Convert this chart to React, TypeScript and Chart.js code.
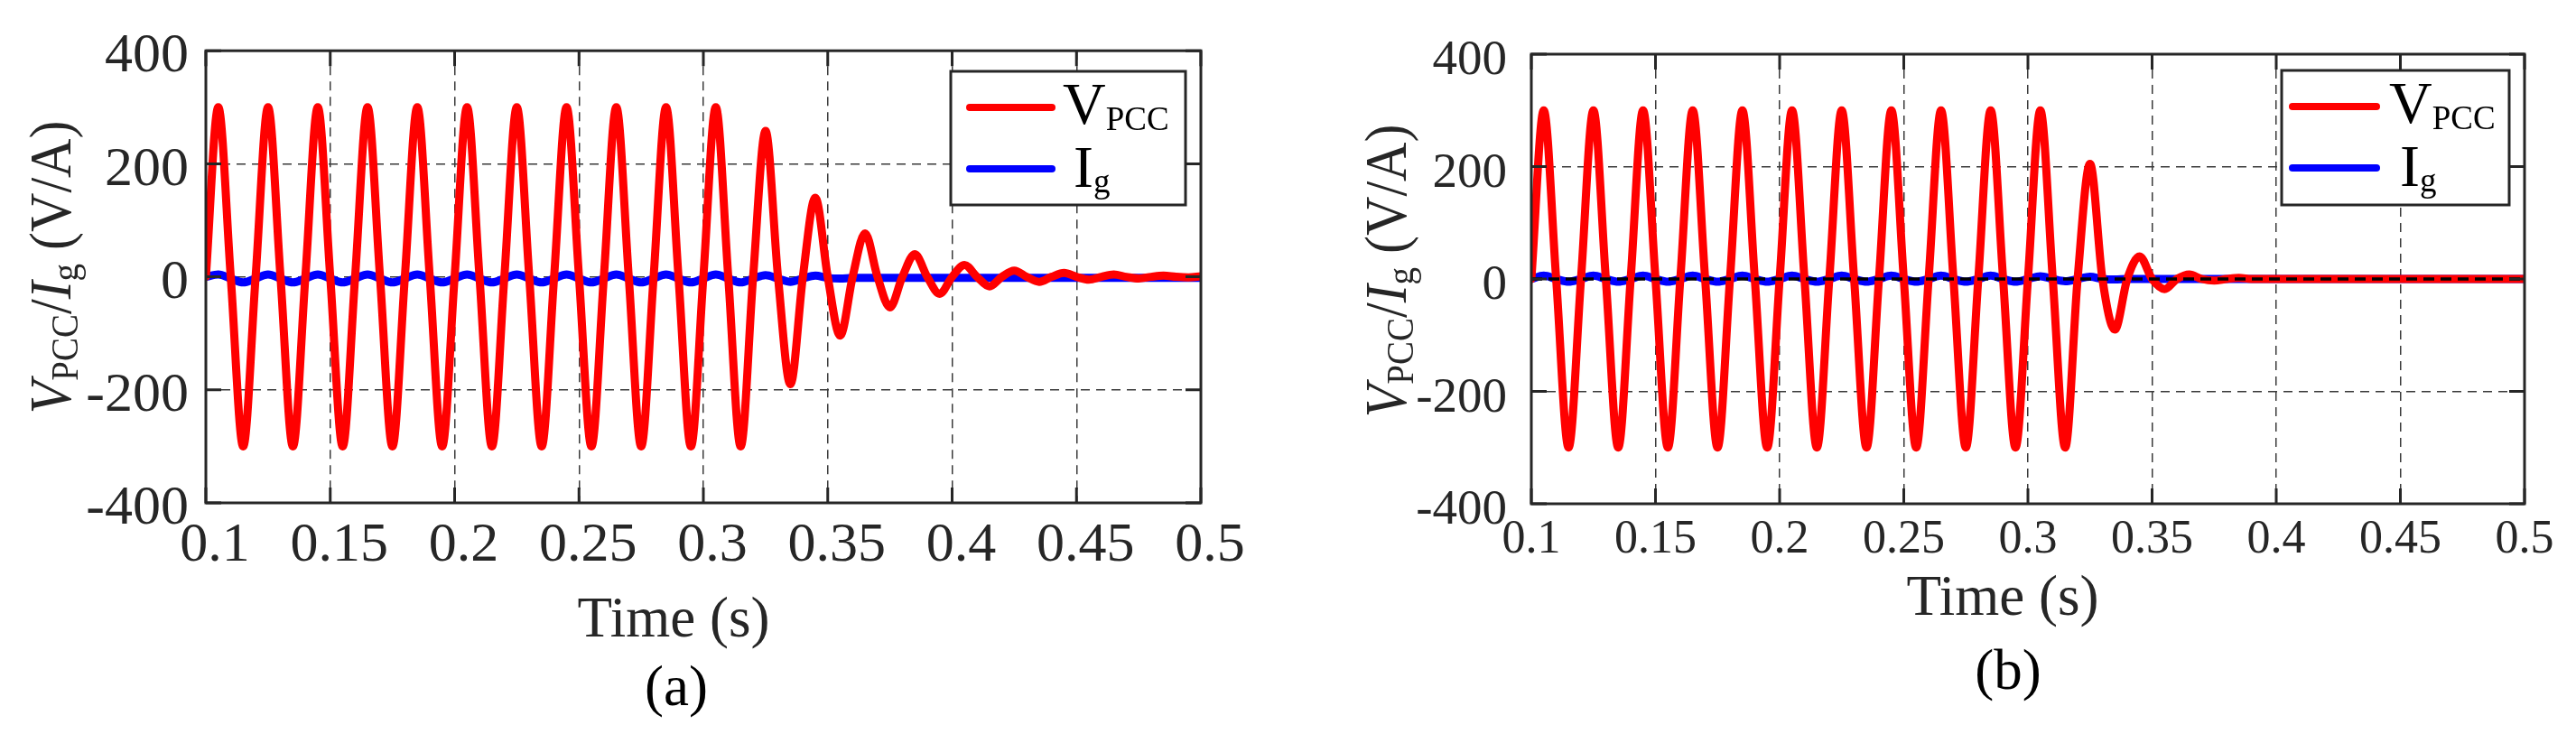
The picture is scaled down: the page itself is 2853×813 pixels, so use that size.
import React, { useEffect, useRef } from "react";
import { Chart, registerables } from "chart.js";

Chart.register(...registerables);

// samples every quarter period (5 ms) from 0.1 s to 0.5 s
const tStart = 0.1;
const tStep = 0.005;

const xTicks = [0.1, 0.15, 0.2, 0.25, 0.3, 0.35, 0.4, 0.45, 0.5];
const xTickLabels = ["0.1", "0.15", "0.2", "0.25", "0.3", "0.35", "0.4", "0.45", "0.5"];
const yTicks = [-400, -200, 0, 200, 400];
const yTickLabels = ["-400", "-200", "0", "200", "400"];

// (a) V_PCC
const vpccA = [
  0, 300, 0, -300, 0, 300, 0, -300,
  0, 300, 0, -300, 0, 300, 0, -300,
  0, 300, 0, -300, 0, 300, 0, -300,
  0, 300, 0, -300, 0, 300, 0, -300,
  0, 300, 0, -300, 0, 300, 0, -300,
  0, 300, 0, -300,
  0, 258, 0, -190, 0, 140, 0, -104,
  0, 77, 0, -54, 0, 40, 0, -30,
  0, 21, 0, -17, 0, 11, 0, -9,
  0, 7, 0, -5, 0, 4, 0, -3,
  0, 2, 0, -1, 1,
];

// (a) I_g
const igA = [
  0, 4, -3, -10, -3, 4, -3, -10,
  -3, 4, -3, -10, -3, 4, -3, -10,
  -3, 4, -3, -10, -3, 4, -3, -10,
  -3, 4, -3, -10, -3, 4, -3, -10,
  -3, 4, -3, -10, -3, 4, -3, -10,
  -3, 4, -3, -10,
  -3, 3, -3, -9, -3, 2, -2, -3,
  -2, -2, -2, -2, -2, -2, -2, -2,
  -2, -2, -2, -2, -2, -2, -2, -2,
  -2, -2, -2, -2, -2, -2, -2, -2,
  -2, -2, -2, -2, -2,
];

// (b) V_PCC
const vpccB = [
  0, 300, 0, -300, 0, 300, 0, -300,
  0, 300, 0, -300, 0, 300, 0, -300,
  0, 300, 0, -300, 0, 300, 0, -300,
  0, 300, 0, -300, 0, 300, 0, -300,
  0, 300, 0, -300, 0, 300, 0, -300,
  0, 300, 0, -300,
  0, 205, 0, -90, 0, 40, 0, -18,
  0, 8, 0, -3, 0, 2, 0, 0,
  0, 0, 0, 0, 0, 0, 0, 0,
  0, 0, 0, 0, 0, 0, 0, 0,
  0, 0, 0, 0, 0,
];

// (b) I_g
const igB = [
  0, 6, 0, -5, 0, 6, 0, -5,
  0, 6, 0, -5, 0, 6, 0, -5,
  0, 6, 0, -5, 0, 6, 0, -5,
  0, 6, 0, -5, 0, 6, 0, -5,
  0, 6, 0, -5, 0, 6, 0, -5,
  0, 5, 0, -4,
  0, 4, 0, -1, 0, 0, 0, 0,
  0, 0, 0, 0, 0, 0, 0, 0,
  0, 0, 0, 0, 0, 0, 0, 0,
  0, 0, 0, 0, 0, 0, 0, 0,
  0, 0, 0, 0, 0,
];

const H = 813;
const X_AXIS_H = 100;
const TICK = 17;
const SERIF = '"Liberation Serif", "Times New Roman", serif';
const AXIS_COLOR = "#262626";

type Run = { text: string; italic?: boolean; sub?: boolean };

const yTitleRuns: Run[] = [
  { text: "V", italic: true },
  { text: "PCC", sub: true },
  { text: "/" },
  { text: "I", italic: true },
  { text: "g", sub: true },
  { text: " (V/A)" },
];

function drawRuns(
  ctx: CanvasRenderingContext2D,
  runs: Run[],
  x: number,
  y: number,
  size: number,
  subSize: number,
  subDrop: number,
  center: boolean
) {
  const fontOf = (r: Run) => `${r.italic ? "italic " : ""}${r.sub ? subSize : size}px ${SERIF}`;
  let total = 0;
  for (const r of runs) {
    ctx.font = fontOf(r);
    total += ctx.measureText(r.text).width;
  }
  let cx = center ? x - total / 2 : x;
  ctx.textAlign = "left";
  ctx.textBaseline = "alphabetic";
  for (const r of runs) {
    ctx.font = fontOf(r);
    ctx.fillText(r.text, cx, r.sub ? y + subDrop : y);
    cx += ctx.measureText(r.text).width;
  }
}

interface PanelCfg {
  vpcc: number[];
  ig: number[];
  caption: string;
  left: number;
  width: number;
  area: { left: number; right: number; top: number; bottom: number };
  xTickSize: number;
  yTickSize: number;
  xTickPad: number;
  yTickPad: number;
  xLabelOffset: number;
  yLabelOffset: number;
  yTitle: { x: number; y: number };
  xTitle: { x: number; y: number };
  captionPos: { x: number; y: number };
  legend: { x: number; y: number; w: number; h: number; lineX: number; lineLen: number; textX: number };
  zeroOnTop: boolean;
}

const panelA: PanelCfg = {
  vpcc: vpccA,
  ig: igA,
  caption: "(a)",
  left: 0,
  width: 1426,
  area: { left: 228, right: 1330, top: 50, bottom: 557 },
  xTickSize: 62,
  yTickSize: 62,
  xTickPad: 11,
  yTickPad: 19,
  xLabelOffset: 10,
  yLabelOffset: 7,
  yTitle: { x: 78, y: 296 },
  xTitle: { x: 746, y: 705 },
  captionPos: { x: 749, y: 781 },
  legend: { x: 1053, y: 79, w: 260, h: 148, lineX: 1074, lineLen: 91, textX: 1177 },
  zeroOnTop: false,
};

const panelB: PanelCfg = {
  vpcc: vpccB,
  ig: igB,
  caption: "(b)",
  left: 1426,
  width: 1427,
  area: { left: 270, right: 1370, top: 49, bottom: 558 },
  xTickSize: 52,
  yTickSize: 55,
  xTickPad: 9,
  yTickPad: 27,
  xLabelOffset: 0,
  yLabelOffset: 8,
  yTitle: { x: 131, y: 300 },
  xTitle: { x: 792, y: 681 },
  captionPos: { x: 798, y: 763 },
  legend: { x: 1101, y: 78, w: 252, h: 149, lineX: 1113, lineLen: 93, textX: 1220 },
  zeroOnTop: true,
};

const toPoints = (vals: number[]) => vals.map((v, i) => ({ x: tStart + i * tStep, y: v }));

function makePlugin(cfg: PanelCfg) {
  return {
    id: "matlabLook",
    afterDatasetsDraw(chart: any) {
      const { ctx, chartArea: a } = chart;
      const xs = chart.scales.x;
      const ys = chart.scales.y;
      ctx.save();
      if (cfg.zeroOnTop) {
        const y0 = ys.getPixelForValue(0);
        ctx.strokeStyle = "#000";
        ctx.lineWidth = 3.5;
        ctx.setLineDash([12, 7]);
        ctx.beginPath();
        ctx.moveTo(a.left, y0);
        ctx.lineTo(a.right, y0);
        ctx.stroke();
        ctx.setLineDash([]);
      }
      ctx.strokeStyle = AXIS_COLOR;
      ctx.lineWidth = 3;
      ctx.strokeRect(a.left, a.top, a.right - a.left, a.bottom - a.top);
      ctx.beginPath();
      for (const v of xTicks) {
        const px = xs.getPixelForValue(v);
        ctx.moveTo(px, a.bottom);
        ctx.lineTo(px, a.bottom - TICK);
        ctx.moveTo(px, a.top);
        ctx.lineTo(px, a.top + TICK);
      }
      for (const v of yTicks) {
        const py = ys.getPixelForValue(v);
        ctx.moveTo(a.left, py);
        ctx.lineTo(a.left + TICK, py);
        ctx.moveTo(a.right, py);
        ctx.lineTo(a.right - TICK, py);
      }
      ctx.stroke();
      ctx.restore();
    },
    afterDraw(chart: any) {
      const ctx: CanvasRenderingContext2D = chart.ctx;
      const lg = cfg.legend;
      ctx.save();

      // legend
      ctx.fillStyle = "#fff";
      ctx.fillRect(lg.x, lg.y, lg.w, lg.h);
      ctx.strokeStyle = AXIS_COLOR;
      ctx.lineWidth = 3;
      ctx.strokeRect(lg.x, lg.y, lg.w, lg.h);
      ctx.lineCap = "round";
      ctx.lineWidth = 8;
      ctx.strokeStyle = "#ff0000";
      ctx.beginPath();
      ctx.moveTo(lg.lineX, lg.y + 40);
      ctx.lineTo(lg.lineX + lg.lineLen, lg.y + 40);
      ctx.stroke();
      ctx.strokeStyle = "#0000ff";
      ctx.beginPath();
      ctx.moveTo(lg.lineX, lg.y + 108);
      ctx.lineTo(lg.lineX + lg.lineLen, lg.y + 108);
      ctx.stroke();
      ctx.fillStyle = "#000";
      drawRuns(ctx, [{ text: "V" }, { text: "PCC", sub: true }], lg.textX, lg.y + 58, 66, 37, 7, false);
      drawRuns(ctx, [{ text: "I" }, { text: "g", sub: true }], lg.textX + 12, lg.y + 128, 66, 37, 6, false);

      // y axis title (rotated, glyphs slightly stretched like the source figure)
      ctx.fillStyle = AXIS_COLOR;
      ctx.save();
      ctx.translate(cfg.yTitle.x, cfg.yTitle.y);
      ctx.rotate(-Math.PI / 2);
      ctx.scale(1, 1.08);
      drawRuns(ctx, yTitleRuns, 0, 0, 60, 39, 7, true);
      ctx.restore();

      // x axis title and caption
      ctx.font = `63px ${SERIF}`;
      ctx.textAlign = "center";
      ctx.textBaseline = "alphabetic";
      ctx.fillText("Time (s)", cfg.xTitle.x, cfg.xTitle.y);
      ctx.fillStyle = "#000";
      ctx.fillText(cfg.caption, cfg.captionPos.x, cfg.captionPos.y);
      ctx.restore();
    },
  };
}

function buildConfig(cfg: PanelCfg): any {
  const a = cfg.area;
  return {
    type: "line",
    data: {
      datasets: [
        {
          label: "VPCC",
          data: toPoints(cfg.vpcc),
          borderColor: "#ff0000",
          borderWidth: 9,
          pointRadius: 0,
          fill: false,
          cubicInterpolationMode: "monotone",
          borderCapStyle: "round",
          borderJoinStyle: "round",
        },
        {
          label: "Ig",
          data: toPoints(cfg.ig),
          borderColor: "#0000ff",
          borderWidth: 9,
          pointRadius: 0,
          fill: false,
          cubicInterpolationMode: "monotone",
          borderCapStyle: "round",
          borderJoinStyle: "round",
        },
      ],
    },
    options: {
      animation: false,
      responsive: false,
      devicePixelRatio: 1,
      layout: {
        padding: {
          left: 0,
          top: a.top,
          right: cfg.width - a.right,
          bottom: H - a.bottom - X_AXIS_H,
        },
      },
      plugins: { legend: { display: false }, tooltip: { enabled: false } },
      scales: {
        x: {
          type: "linear",
          min: 0.1,
          max: 0.5,
          afterBuildTicks: (s: any) => {
            s.ticks = xTicks.map((v) => ({ value: v }));
          },
          afterFit: (s: any) => {
            s.height = X_AXIS_H;
          },
          grid: { color: "#3a3a3a", lineWidth: 1.5, drawTicks: false },
          border: { display: false, dash: [10, 7] },
          ticks: {
            autoSkip: false,
            maxRotation: 0,
            padding: cfg.xTickPad,
            labelOffset: cfg.xLabelOffset,
            color: AXIS_COLOR,
            font: { family: SERIF, size: cfg.xTickSize },
            callback: (_v: any, i: number) => xTickLabels[i],
          },
        },
        y: {
          type: "linear",
          min: -400,
          max: 400,
          afterBuildTicks: (s: any) => {
            s.ticks = yTicks.map((v) => ({ value: v }));
          },
          afterFit: (s: any) => {
            s.width = a.left;
          },
          grid: { color: "#3a3a3a", lineWidth: 1.5, drawTicks: false },
          border: { display: false, dash: [10, 7] },
          ticks: {
            autoSkip: false,
            padding: cfg.yTickPad,
            labelOffset: cfg.yLabelOffset,
            color: AXIS_COLOR,
            font: { family: SERIF, size: cfg.yTickSize },
            callback: (_v: any, i: number) => yTickLabels[i],
          },
        },
      },
    },
    plugins: [makePlugin(cfg)],
  };
}

function Panel({ cfg }: { cfg: PanelCfg }) {
  const canvasRef = useRef<HTMLCanvasElement>(null);

  useEffect(() => {
    if (!canvasRef.current) return;
    const chart = new Chart(canvasRef.current, buildConfig(cfg));
    return () => {
      chart.destroy();
    };
  }, [cfg]);

  return (
    <canvas
      ref={canvasRef}
      width={cfg.width}
      height={H}
      style={{ position: "absolute", left: cfg.left, top: 0, width: cfg.width, height: H }}
    />
  );
}

export default function App() {
  return (
    <div
      style={{
        position: "fixed",
        left: 0,
        top: 0,
        width: 2853,
        height: H,
        background: "#fff",
        overflow: "hidden",
      }}
    >
      <Panel cfg={panelA} />
      <Panel cfg={panelB} />
    </div>
  );
}
